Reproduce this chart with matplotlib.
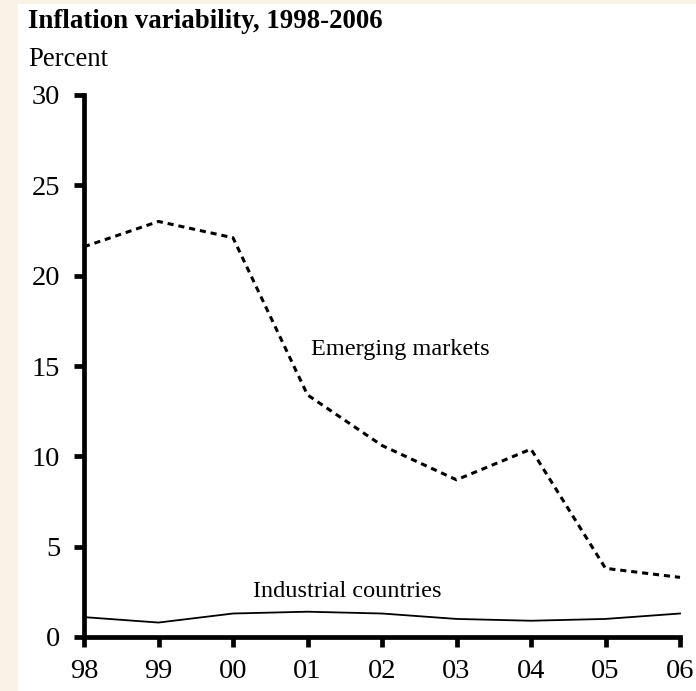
import matplotlib
matplotlib.use("Agg")
import matplotlib.pyplot as plt
from matplotlib.patches import Rectangle

years = ["98", "99", "00", "01", "02", "03", "04", "05", "06"]
emerging = [21.6, 23.0, 22.1, 13.4, 10.6, 8.7, 10.4, 3.8, 3.3]
industrial = [1.1, 0.8, 1.3, 1.4, 1.3, 1.0, 0.9, 1.0, 1.3]
yticks = [0, 5, 10, 15, 20, 25, 30]

plt.rcParams['font.family'] = ['Liberation Serif', 'DejaVu Serif']

W, H = 696, 691
fig = plt.figure(figsize=(W/100, H/100), dpi=100)
fig.patch.set_facecolor('#F9F2E7')
fig.patches.append(Rectangle((18/W, 0), 1 - 18/W, 1 - 4/H, transform=fig.transFigure,
                             facecolor='white', edgecolor='none', zorder=-10))

ax = fig.add_axes([84/W, 1 - 637/H, (680-84)/W, (637-95)/H])
ax.set_facecolor('none')
x = list(range(len(years)))
ax.plot(x, emerging, color='black', lw=2.2, linestyle=(0, (2, 1.6)), clip_on=False)
ax.plot(x, industrial, color='black', lw=1.3, clip_on=False)

ax.set_xlim(0, len(years)-1)
ax.set_ylim(0, 30)
ax.set_xticks(x)
ax.set_xticklabels(years)
ax.set_yticks(yticks)
ax.set_yticklabels([str(v) for v in yticks])
for s in ['top', 'right']:
    ax.spines[s].set_visible(False)
for s in ['left', 'bottom']:
    ax.spines[s].set_linewidth(3.4)
ax.tick_params(axis='both', direction='out', length=7, width=3.4, labelsize=20.5, colors='black')
ax.tick_params(axis='x', pad=9)
ax.tick_params(axis='y', pad=10)

ax.text(3.05, 15.9, "Emerging markets", fontsize=17.5, ha='left', va='center')
ax.text(2.27, 2.5, "Industrial countries", fontsize=17.5, ha='left', va='center')

fig.text(28/W, 1 - 21/H, "Inflation variability, 1998-2006", fontsize=19.4, fontweight='bold',
         ha='left', va='center')
fig.text(28/W, 1 - 59/H, "Percent", fontsize=19.3, ha='left', va='center')

fig.savefig("out.png", dpi=100, facecolor=fig.get_facecolor())
